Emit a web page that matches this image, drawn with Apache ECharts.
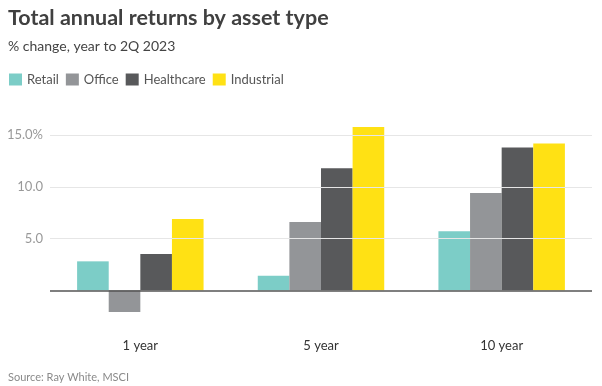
<!DOCTYPE html>
<html>
<head>
<meta charset="utf-8">
<script src="https://cdn.jsdelivr.net/npm/echarts@6/dist/echarts.min.js"></script>
<style>html,body{margin:0;padding:0;background:#fff}#c{width:602px;height:386px}</style>
</head>
<body>
<div id="c"></div>
<script>
var categories = ['1 year', '5 year', '10 year'];
var seriesNames = ['Retail', 'Office', 'Healthcare', 'Industrial'];
var retail = [2.8, 1.4, 5.7];
var office = [-2.1, 6.6, 9.4];
var healthcare = [3.5, 11.8, 13.8];
var industrial = [6.9, 15.8, 14.2];
var gridValues = [5, 10, 15];
var colors = ['#7ccdc7', '#939598', '#58595b', '#ffe114'];

var chart = echarts.init(document.getElementById('c'), null, {renderer: 'canvas'});
var font = 'Lato, "Noto Sans", sans-serif';
var allData = [retail, office, healthcare, industrial];
var series = seriesNames.map(function (n, i) {
  var s = {
    name: n, type: 'bar', data: allData[i], barGap: '0%', barCategoryGap: '30%',
    itemStyle: {color: colors[i]}, silent: true
  };
  if (i === 0) {
    s.markLine = {
      silent: true, symbol: 'none', label: {show: false}, animation: false,
      data: gridValues.map(function (v) { return {yAxis: v, lineStyle: {color: '#e6e6e6', width: 1, type: 'solid'}}; })
        .concat([{yAxis: 0, lineStyle: {color: '#555', width: 1.5, type: 'solid'}}])
    };
  }
  return s;
});
chart.setOption({
  animation: false,
  color: colors,
  title: [
    {text: 'Total annual returns by asset type', left: 8, top: 7, padding: 0,
     textStyle: {fontFamily: font, fontSize: 21.5, fontWeight: 'bold', color: '#404040'}},
    {text: '% change, year to 2Q 2023', left: 8, top: 39, padding: 0,
     textStyle: {fontFamily: font, fontSize: 14, fontWeight: 'normal', color: '#444'}},
    {text: 'Source: Ray White, MSCI', left: 8, top: 372, padding: 0,
     textStyle: {fontFamily: font, fontSize: 11, fontWeight: 'normal', color: '#8a8a8a'}}
  ],
  legend: {
    data: seriesNames, left: 9, top: 73, padding: 0, itemWidth: 13, itemHeight: 12, itemGap: 7,
    icon: 'rect', textStyle: {fontFamily: font, fontSize: 13, color: '#555'}
  },
  grid: {left: 50, right: 10, top: 83.5, bottom: 44, containLabel: false},
  xAxis: {
    type: 'category', data: categories, position: 'bottom',
    axisLine: {show: false}, axisTick: {show: false},
    axisLabel: {fontFamily: font, fontSize: 13, color: '#333', margin: -3}
  },
  yAxis: {
    type: 'value', min: -5, max: 20, interval: 5,
    splitLine: {show: false}, axisLine: {show: false}, axisTick: {show: false},
    axisLabel: {
      fontFamily: font, fontSize: 13, color: '#999', margin: 7,
      formatter: function (v) { if (v === 15) return '15.0%'; if (v > 0 && v < 20) return v.toFixed(1); return ''; }
    }
  },
  series: series
});
</script>
</body>
</html>
